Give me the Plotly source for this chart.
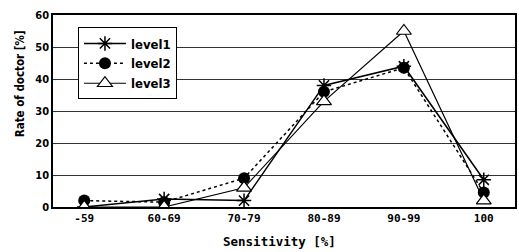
import plotly.graph_objects as go

categories = ["-59", "60-69", "70-79", "80-89", "90-99", "100"]
level1 = [0, 2.5, 2, 38, 44, 8.5]
level2 = [2, 1.5, 9, 36, 43.5, 4.5]
level3 = [0, 0, 6, 33, 55, 2]
y_ticks = [0, 10, 20, 30, 40, 50, 60]

font_fam = "DejaVu Sans Condensed, DejaVu Sans, Arial"
mono = "DejaVu Sans Mono, Liberation Mono, monospace"

fig = go.Figure()
fig.add_trace(go.Scatter(x=categories, y=level1, name="<b>level1</b>", mode="lines+markers",
                         line=dict(color="black", width=1.5),
                         marker=dict(symbol="asterisk-open", size=12, color="black",
                                     line=dict(color="black", width=1.5))))
fig.add_trace(go.Scatter(x=categories, y=level2, name="<b>level2</b>", mode="lines+markers",
                         line=dict(color="black", width=1.5, dash="dot"),
                         marker=dict(symbol="circle", size=12, color="black")))
fig.add_trace(go.Scatter(x=categories, y=level3, name="<b>level3</b>", mode="lines+markers",
                         line=dict(color="black", width=1.2),
                         marker=dict(symbol="triangle-up", size=13, color="white",
                                     line=dict(color="black", width=1.2))))

fig.update_layout(
    width=519, height=252,
    margin=dict(l=53, r=2, t=15, b=45),
    paper_bgcolor="white", plot_bgcolor="white",
    font=dict(family=font_fam, size=11, color="black"),
    legend=dict(x=0.054, y=0.935, xanchor="left", yanchor="top",
                bgcolor="white", bordercolor="black", borderwidth=1,
                font=dict(size=13, family=font_fam), tracegroupgap=0,
                itemwidth=42),
    showlegend=True,
    annotations=[
        dict(text="<b>Sensitivity [%]</b>", xref="paper", yref="paper",
             x=0.49, y=-0.18, xanchor="center", yanchor="middle", showarrow=False,
             font=dict(family=mono, size=12.5)),
        dict(text="<b>Rate of doctor [%]</b>", xref="paper", yref="paper",
             x=-0.071, y=0.64, xanchor="center", yanchor="middle", showarrow=False,
             textangle=-90, font=dict(family=font_fam, size=11.5)),
    ],
)
fig.update_xaxes(type="category", categoryorder="array", categoryarray=categories,
                 showline=True, linecolor="black", linewidth=1.5, mirror=True,
                 showgrid=False, ticks="", zeroline=False,
                 tickfont=dict(size=11, family=mono),
                 tickvals=categories, ticktext=["<b>%s</b>" % c for c in categories])
fig.update_yaxes(range=[0, 60], tickvals=y_ticks, ticktext=["<b>%d</b>" % v for v in y_ticks],
                 showline=True, linecolor="black",
                 linewidth=1.5, mirror=True, showgrid=True, gridcolor="#333333",
                 gridwidth=1, zeroline=False, ticks="",
                 tickfont=dict(size=11, family=font_fam))
fig.write_html("out.html", config={"displayModeBar": False},
               post_script="document.body.style.margin='0';document.body.style.overflow='hidden';")
